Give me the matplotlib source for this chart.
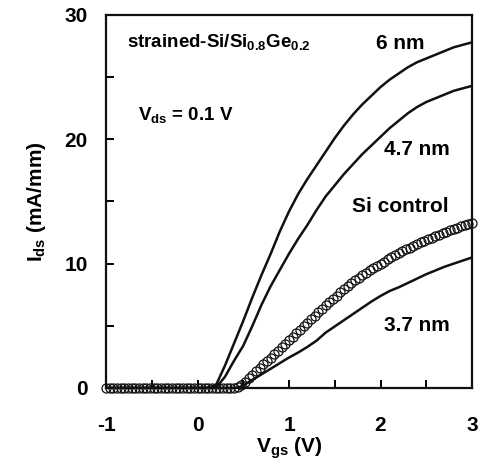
import numpy as np
import matplotlib
matplotlib.use('Agg')
import matplotlib.pyplot as plt

plt.rcParams['font.family'] = ['Liberation Sans', 'DejaVu Sans']
plt.rcParams['font.weight'] = 'bold'
plt.rcParams['axes.labelweight'] = 'bold'
plt.rcParams['axes.unicode_minus'] = False
plt.rcParams['mathtext.fontset'] = 'custom'
plt.rcParams['mathtext.rm'] = 'Liberation Sans:bold'
plt.rcParams['mathtext.it'] = 'Liberation Sans:bold'
plt.rcParams['mathtext.bf'] = 'Liberation Sans:bold'

# --- strained-Si devices (solid lines) ---
vgs_6nm = [-1.0, 0.1, 0.2, 0.3, 0.4, 0.5, 0.6, 0.7, 0.8, 0.9, 1.0, 1.1, 1.2, 1.3,
           1.4, 1.5, 1.6, 1.7, 1.8, 1.9, 2.0, 2.1, 2.2, 2.3, 2.4, 2.5, 2.6, 2.7,
           2.8, 2.9, 3.0]
ids_6nm = [0.0, 0.0, 0.2, 1.8, 3.6, 5.4, 7.3, 9.1, 10.8, 12.6, 14.2, 15.6, 16.8,
           17.9, 19.0, 20.1, 21.1, 22.0, 22.8, 23.5, 24.2, 24.8, 25.3, 25.8, 26.2,
           26.5, 26.8, 27.1, 27.4, 27.6, 27.8]

vgs_47nm = [-1.0, 0.2, 0.3, 0.4, 0.5, 0.6, 0.7, 0.8, 0.9, 1.0, 1.1, 1.2, 1.3, 1.4,
            1.5, 1.6, 1.7, 1.8, 1.9, 2.0, 2.1, 2.2, 2.3, 2.4, 2.5, 2.6, 2.7, 2.8,
            2.9, 3.0]
ids_47nm = [0.0, 0.0, 0.9, 2.2, 3.4, 5.0, 6.7, 8.2, 9.5, 10.8, 12.0, 13.1, 14.3,
            15.4, 16.3, 17.2, 18.0, 18.8, 19.5, 20.2, 20.9, 21.5, 22.1, 22.6, 23.0,
            23.3, 23.6, 23.9, 24.1, 24.3]

vgs_37nm = [-1.0, 0.4, 0.45, 0.5, 0.6, 0.7, 0.8, 0.9, 1.0, 1.1, 1.2, 1.3, 1.4, 1.5,
            1.6, 1.7, 1.8, 1.9, 2.0, 2.1, 2.2, 2.3, 2.4, 2.5, 2.6, 2.7, 2.8, 2.9, 3.0]
ids_37nm = [0.0, 0.0, 0.05, 0.2, 0.65, 1.1, 1.55, 2.0, 2.45, 2.85, 3.3, 3.8, 4.45,
            4.95, 5.45, 5.95, 6.45, 6.95, 7.4, 7.8, 8.1, 8.45, 8.8, 9.15, 9.45,
            9.75, 10.0, 10.25, 10.5]

# --- Si control (open circles), swept -1 V .. 3 V in 0.04 V steps ---
vgs_si = np.linspace(-1.0, 3.0, 101)
ids_si = [0.0, 0.0, 0.0, 0.0, 0.0, 0.0, 0.0, 0.0, 0.0, 0.0,
          0.0, 0.0, 0.0, 0.0, 0.0, 0.0, 0.0, 0.0, 0.0, 0.0,
          0.0, 0.0, 0.0, 0.0, 0.0, 0.0, 0.0, 0.0, 0.0, 0.0,
          0.0, 0.0, 0.0, 0.0, 0.0,
          0.0, 0.08, 0.25, 0.5, 0.77, 1.05, 1.33, 1.61, 1.89, 2.17,
          2.45, 2.73, 3.01, 3.29, 3.57, 3.85, 4.13, 4.41, 4.69, 4.97,
          5.25, 5.53, 5.81, 6.09, 6.37, 6.65, 6.9, 7.17, 7.43, 7.68,
          7.95, 8.19, 8.43, 8.65, 8.85, 9.05, 9.25, 9.45, 9.65, 9.84,
          10.0, 10.17, 10.35, 10.53, 10.69, 10.85, 11.01, 11.14, 11.28, 11.43,
          11.55, 11.71, 11.84, 11.96, 12.08, 12.2, 12.32, 12.44, 12.56, 12.68,
          12.75, 12.87, 12.99, 13.1, 13.2, 13.3]

x_ticks = [-1, 0, 1, 2, 3]
y_ticks = [0, 10, 20, 30]

fig = plt.figure(figsize=(4.85, 4.61), dpi=100)
ax = fig.add_axes([0.2186, 0.1584, 0.7546, 0.8091])

for v, i in [(vgs_6nm, ids_6nm), (vgs_47nm, ids_47nm), (vgs_37nm, ids_37nm)]:
    ax.plot(v, i, color='#111111', lw=1.8, zorder=3)
ax.plot(vgs_si, ids_si, 'o', mfc='none', mec='#111111', mew=0.9, ms=6.5,
        clip_on=False, zorder=4)

ax.set_xlim(-1, 3)
ax.set_ylim(0, 30)
ax.set_xticks(x_ticks)
ax.set_yticks(y_ticks)
ax.set_xticks(np.arange(-0.5, 3.0, 1.0), minor=True)
ax.set_yticks([5, 15, 25], minor=True)
ax.tick_params(which='both', direction='in', length=5.5, width=1.4,
               top=False, right=False, labelsize=15)
ax.tick_params(axis='x', pad=20)
ax.tick_params(axis='y', pad=13)
for s in ax.spines.values():
    s.set_linewidth(1.6)
    s.set_color('#111111')

ax.set_xlabel(r'V$_{gs}$ (V)', fontsize=15, labelpad=0.5)
ax.set_ylabel(r'I$_{ds}$ (mA/mm)', fontsize=15, labelpad=12)

ax.text(-0.77, 27.43, r'strained-Si/Si$_{0.8}$Ge$_{0.2}$', fontsize=13.5,
        ha='left', va='baseline')
ax.text(-0.65, 21.56, r'V$_{ds}$ = 0.1 V', fontsize=13.5, ha='left', va='baseline')
ax.text(2.22, 27.7, '6 nm', fontsize=15, ha='center', va='center')
ax.text(2.40, 19.2, '4.7 nm', fontsize=15, ha='center', va='center')
ax.text(2.22, 14.6, 'Si control', fontsize=15, ha='center', va='center')
ax.text(2.40, 5.0, '3.7 nm', fontsize=15, ha='center', va='center')

fig.savefig('out.png', dpi=100)
